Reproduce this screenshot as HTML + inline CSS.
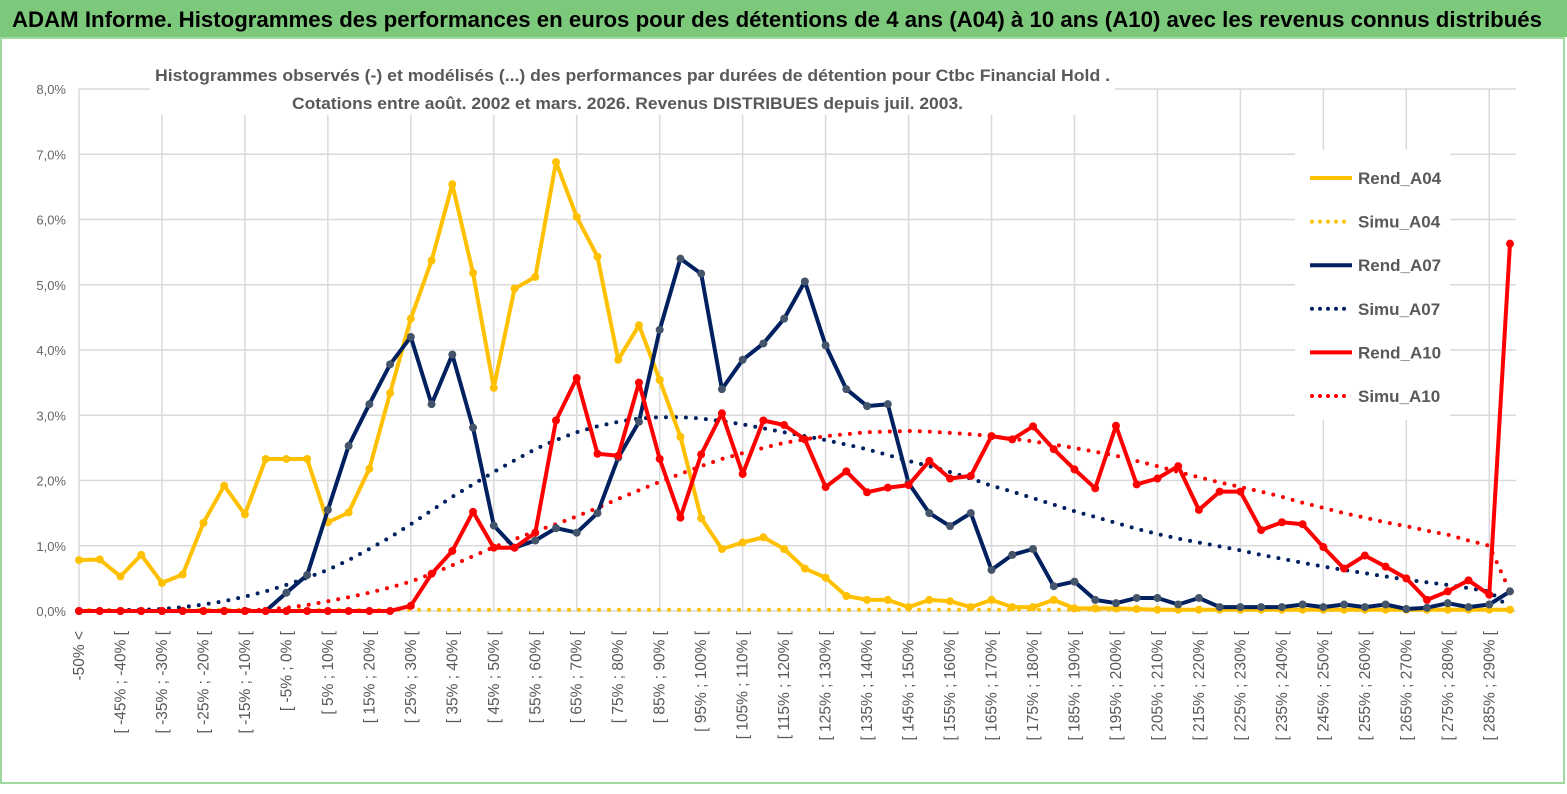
<!DOCTYPE html>
<html><head><meta charset="utf-8"><style>
body{margin:0;width:1567px;height:789px;overflow:hidden;background:#fff;font-family:"Liberation Sans",sans-serif}
</style></head><body>
<svg id="chart" width="1567" height="789" xmlns="http://www.w3.org/2000/svg">
<rect x="0" y="0" width="1567" height="789" fill="#fff"/>
<rect x="0" y="0" width="1567" height="37" fill="#7dc97c"/>
<text x="12" y="27" font-size="22" font-weight="bold" fill="#000" textLength="1530" lengthAdjust="spacingAndGlyphs">ADAM Informe. Histogrammes des performances en euros pour des détentions de 4 ans (A04) à 10 ans (A10) avec les revenus connus distribués</text>
<rect x="1" y="38" width="1563" height="745" fill="none" stroke="#9ed89a" stroke-width="2"/>
<g id="grid"></g>
<rect x="150" y="55" width="965" height="60" fill="#fff"/>
<text x="155" y="81" font-size="17" font-weight="bold" fill="#595959" textLength="955" lengthAdjust="spacingAndGlyphs">Histogrammes observés (-) et modélisés (...) des performances par durées de détention pour Ctbc Financial Hold .</text>
<text x="292" y="109" font-size="17" font-weight="bold" fill="#595959" textLength="671" lengthAdjust="spacingAndGlyphs">Cotations entre août. 2002 et mars. 2026. Revenus DISTRIBUES depuis juil. 2003.</text>
<rect x="1295" y="150" width="155" height="270" fill="#fff"/>
<g id="series"></g>
<g id="legend"></g>
</svg>
<script>
const categories=[];
for(let i=0;i<70;i++){categories.push(i===0?'-50% <':'[ '+(-55+5*i)+'% ; '+(-50+5*i)+'% [');}
const yTicks=[0,1,2,3,4,5,6,7,8];
const rendA04=[0.78,0.79,0.53,0.86,0.43,0.56,1.35,1.92,1.48,2.33,2.33,2.33,1.36,1.51,2.18,3.34,4.48,5.37,6.54,5.18,3.42,4.94,5.12,6.88,6.04,5.43,3.85,4.38,3.54,2.67,1.42,0.95,1.05,1.13,0.95,0.65,0.51,0.23,0.17,0.17,0.06,0.17,0.15,0.06,0.17,0.06,0.06,0.17,0.04,0.04,0.04,0.03,0.02,0.02,0.02,0.02,0.02,0.02,0.02,0.02,0.02,0.02,0.02,0.02,0.02,0.02,0.02,0.02,0.02,0.02];
const simuA04=[0.02,0.02,0.02,0.02,0.02,0.02,0.02,0.02,0.02,0.02,0.02,0.02,0.02,0.02,0.02,0.02,0.02,0.02,0.02,0.02,0.02,0.02,0.02,0.02,0.02,0.02,0.02,0.02,0.02,0.02,0.02,0.02,0.02,0.02,0.02,0.02,0.02,0.02,0.02,0.02,0.02,0.02,0.02,0.02,0.02,0.02,0.02,0.02,0.02,0.02,0.02,0.02,0.02,0.02,0.02,0.02,0.02,0.02,0.02,0.02,0.02,0.02,0.02,0.02,0.02,0.02,0.02,0.02,0.02,0.02];
const rendA07=[0,0,0,0,0,0,0,0,0,0,0.28,0.55,1.55,2.53,3.17,3.78,4.2,3.17,3.93,2.81,1.31,0.97,1.08,1.27,1.2,1.5,2.35,2.9,4.31,5.4,5.17,3.4,3.85,4.1,4.48,5.05,4.07,3.4,3.14,3.17,1.96,1.5,1.3,1.5,0.63,0.86,0.95,0.38,0.45,0.17,0.12,0.2,0.2,0.1,0.2,0.06,0.06,0.06,0.06,0.1,0.06,0.1,0.06,0.1,0.03,0.05,0.12,0.06,0.1,0.3];
const simuA07=[0,0,0.01,0.02,0.03,0.06,0.1,0.15,0.22,0.3,0.4,0.51,0.63,0.78,0.95,1.13,1.33,1.54,1.75,1.94,2.13,2.31,2.48,2.62,2.74,2.83,2.9,2.95,2.97,2.97,2.95,2.91,2.86,2.8,2.74,2.68,2.62,2.55,2.48,2.39,2.3,2.22,2.13,2.03,1.92,1.83,1.73,1.63,1.53,1.44,1.35,1.26,1.18,1.11,1.05,0.99,0.93,0.86,0.8,0.74,0.68,0.63,0.58,0.53,0.48,0.44,0.4,0.35,0.3,0.05];
const rendA10=[0,0,0,0,0,0,0,0,0,0,0,0,0,0,0,0,0.08,0.57,0.92,1.52,0.97,0.97,1.2,2.92,3.57,2.41,2.38,3.5,2.33,1.43,2.4,3.03,2.1,2.92,2.85,2.63,1.9,2.14,1.82,1.89,1.93,2.3,2.03,2.07,2.68,2.63,2.83,2.48,2.17,1.88,2.84,1.94,2.03,2.22,1.55,1.83,1.83,1.24,1.36,1.33,0.98,0.65,0.85,0.68,0.5,0.17,0.3,0.47,0.25,5.63];
const simuA10=[0,0,0,0,0,0,0,0,0.01,0.02,0.05,0.09,0.15,0.21,0.28,0.36,0.45,0.57,0.7,0.84,0.98,1.1,1.22,1.33,1.45,1.58,1.72,1.85,1.98,2.1,2.22,2.33,2.42,2.5,2.58,2.63,2.68,2.71,2.74,2.75,2.76,2.75,2.73,2.71,2.68,2.64,2.6,2.55,2.5,2.44,2.38,2.3,2.22,2.13,2.05,1.97,1.9,1.83,1.75,1.66,1.58,1.5,1.43,1.36,1.3,1.23,1.17,1.08,1.0,0.3];
const X0=79,X1=1510,Y0=611,Y8=89,YMAX=8;
function xs(i){return X0+i*(X1-X0)/(categories.length-1);}
function ys(v){return Y0-(v/YMAX)*(Y0-Y8);}
const NS='http://www.w3.org/2000/svg';
function mk(tag,attrs,parent){const e=document.createElementNS(NS,tag);for(const k in attrs)e.setAttribute(k,attrs[k]);parent.appendChild(e);return e;}
const grid=document.getElementById('grid');
yTicks.forEach(t=>{
 const l=mk('line',{x1:X0,x2:1516,y1:ys(t),y2:ys(t),stroke:'#d9d9d9','stroke-width':1.5},grid);
 
 
 const tx=mk('text',{x:66,y:ys(t)+5,'text-anchor':'end','font-size':13,fill:'#666'},grid);
 tx.textContent=t.toFixed(1).replace('.',',')+'%';
 
 
});
for(let i=0;i<categories.length;i+=4){
 const l=mk('line',{x1:xs(i),x2:xs(i),y1:Y8,y2:Y0,stroke:'#d9d9d9','stroke-width':1.5},grid);
 
 
}
for(let i=0;i<categories.length;i+=2){
 const x=xs(i)+5,y=631;
 const tx=mk('text',{x:x,y:y,'text-anchor':'end','font-size':15.5,fill:'#595959',transform:'rotate(-90 '+x+' '+y+')'},grid);
 tx.textContent=categories[i];
 
 
}
const series=document.getElementById('series');
function drawLine(data,color,name,markerColor){
 const pts=data.map((v,i)=>xs(i).toFixed(1)+','+ys(v).toFixed(1)).join(' ');
 const p=mk('polyline',{points:pts,fill:'none',stroke:color,'stroke-width':4,'stroke-linejoin':'round'},series);
 
 
 data.forEach((v,i)=>{
  const c=mk('circle',{cx:xs(i),cy:ys(v),r:4,fill:markerColor},series);
  
  
 });
}
function drawDots(data,color,name){
 const pts=data.map((v,i)=>xs(i).toFixed(1)+','+ys(v).toFixed(1)).join(' ');
 const p=mk('polyline',{points:pts,fill:'none',stroke:color,'stroke-width':4,'stroke-linecap':'round','stroke-dasharray':'0 10'},series);
 
 
}
drawDots(simuA04,'#ffc000','simu-a04');
drawDots(simuA07,'#002060','simu-a07');
drawDots(simuA10,'#ff0000','simu-a10');
drawLine(rendA04,'#ffc000','rend-a04','#ffc000');
drawLine(rendA07,'#002060','rend-a07','#44546a');
drawLine(rendA10,'#ff0000','rend-a10','#ff0000');
const legend=document.getElementById('legend');
const leg=[['Rend_A04','#ffc000',false],['Simu_A04','#ffc000',true],['Rend_A07','#002060',false],['Simu_A07','#002060',true],['Rend_A10','#ff0000',false],['Simu_A10','#ff0000',true]];
leg.forEach((e,k)=>{
 const y=178+k*43.6;
 const g=mk('g',{},legend);
 
 
 const a={x1:1310,x2:1352,y1:y,y2:y,stroke:e[1],'stroke-width':4};
 if(e[2]){a['stroke-dasharray']='0 8';a['stroke-linecap']='round';a.x1=1312;}
 mk('line',a,g);
 const t=mk('text',{x:1358,y:y+6,'font-size':17,'font-weight':'bold',fill:'#595959'},g);
 t.textContent=e[0];
});
</script>
</body></html>
